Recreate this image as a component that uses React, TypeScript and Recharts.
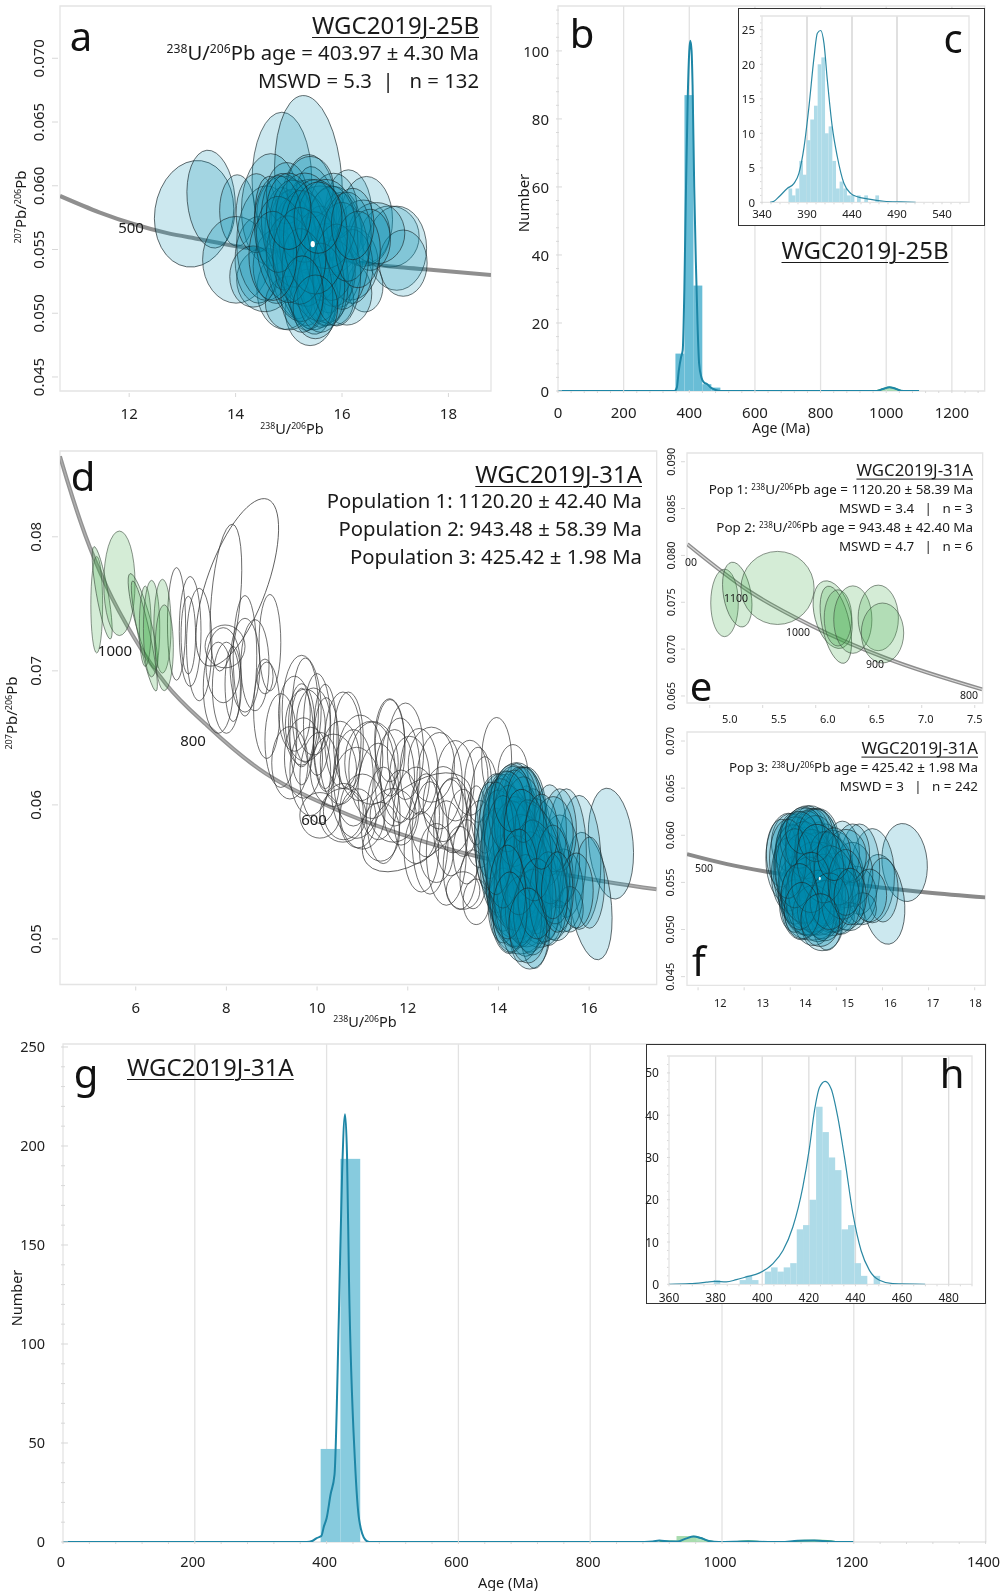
import React from "react";
import { ComposedChart, XAxis, YAxis, Line, Bar, Area, ReferenceArea, CartesianGrid } from "recharts";

type E = number[];

// ---- Ellipses: [x, y, rx, ry, tilt]
const ELLIPSES_A: E[] = [
[13.22,.0578,.74,.0042,8],[13.54,.05895,.45,.00385,-5],[14.03,.05806,.33,.0028],[14.01,.05419,.63,.0034],[14.87,.06047,.56,.0053],[15.37,.06034,.63,.00675,-4],[14.66,.05812,.55,.0044],[15.37,.05785,.53,.0046],[15.4,.05026,.47,.0028],[14.93,.05183,.53,.0031],[14.55,.05262,.53,.0025],[16.12,.05785,.44,.0034],[16.46,.05733,.49,.0034],[16.9,.05602,.55,.0024],[17.03,.0551,.56,.0033],[17.15,.05393,.45,.0026],[16.43,.0521,.34,.002],[16.09,.05157,.47,.0025],[15.4,.05157,.44,.0029,-10],
[14.43,.05419,.44,.0034],[14.58,.0555,.56,.0045],[14.9,.05785,.5,.0029],[15.02,.05471,.44,.0052,-8],[15.21,.05419,.44,.0055,-10],[15.46,.05471,.44,.0058,-10],[15.59,.05576,.47,.0058,-8],[15.4,.05681,.56,.0037],[15.08,.05733,.41,.0024],[15.59,.05759,.5,.0024],[15.84,.05654,.53,.0034],[15.96,.05497,.44,.0045],[16.15,.05393,.53,.0029],[15.71,.05314,.5,.0039],[15.21,.05288,.41,.0039,-10],[15.52,.05236,.38,.0035,-8],[14.77,.05367,.44,.0029],[16.4,.05628,.5,.0026],[16.65,.05628,.53,.0024],[15.84,.05105,.38,.002],[15.34,.05105,.31,.0024],[15.0,.05079,.44,.0021],[16.2,.05367,.38,.0029],[14.39,.05785,.38,.0031],[15.08,.05628,.35,.0029],[15.84,.05838,.44,.0026],[15.59,.05471,.38,.0037],[14.77,.05628,.38,.0045,-8],[16.53,.05576,.38,.0024],[14.96,.05942,.38,.0024],[15.4,.0599,.44,.0024],[14.33,.05288,.44,.0024],[15.84,.05314,.41,.0026],
[15.0,.0565,.5,.0045,-8],[15.2,.0555,.55,.005,-8],[15.4,.0545,.55,.0052,-10],[15.6,.0535,.5,.0045,-8],[15.8,.0555,.5,.0045],[16.0,.0545,.5,.0042],[15.3,.0575,.55,.0035],[15.7,.057,.55,.0035],[15.1,.0535,.5,.0042,-10],[15.35,.0525,.45,.0042,-10],[15.6,.052,.45,.0035],[15.9,.053,.45,.004],[14.9,.055,.5,.0042,-8],[14.8,.057,.45,.0038],[16.1,.056,.45,.0035],[16.3,.055,.42,.003],[15.5,.056,.6,.0045],[15.2,.0545,.5,.0038],[15.5,.0505,.42,.0025],[15.25,.0515,.4,.003],[14.7,.0545,.45,.0035],[16.2,.057,.4,.0028],[15.55,.0575,.45,.0028],[15.0,.058,.42,.003],
];
const CENTER_A: E[] = [[15.45,.05542,.04,.00024]];

const ELLIPSES_POP3: E[] = [
[16.48,.05711,.49,.00415,-5],[16.01,.0532,.46,.0048,-8],[15.78,.05571,.48,.005],[15.5,.0564,.44,.0048],[16.01,.0542,.33,.0034],[13.96,.05754,.49,.0048],[14.4,.05866,.66,.0045],[14.4,.0581,.44,.005],[14.18,.0581,.51,.0042],[14.54,.05866,.51,.0042],[14.69,.05025,.44,.0025],[14.8,.0511,.33,.0033],[14.47,.05137,.59,.0025],[14.25,.0525,.44,.0036],[14.32,.05361,.51,.0042],[14.62,.0525,.51,.0031],[14.91,.05305,.51,.0034],[15.21,.05305,.4,.0031],[15.43,.05361,.44,.0031],[14.76,.05641,.44,.0048],[14.32,.05585,.44,.005],[14.03,.05641,.4,.0048],[14.62,.05613,.37,.0053],[15.06,.05641,.51,.0042,-15],[15.35,.05585,.44,.0034],[14.47,.05669,.33,.0039],[14.4,.05389,.66,.0039],[14.91,.055,.59,.0031],[14.62,.05922,.44,.0036],[14.32,.05978,.44,.0031],[14.03,.05922,.44,.0031],[14.47,.06034,.37,.0025],[14.18,.06034,.4,.0022],[13.81,.0581,.33,.0036],[13.96,.05585,.37,.0039],[14.1,.05417,.37,.0036],[14.4,.05193,.48,.0025],[14.91,.05137,.48,.002],[14.69,.05697,.66,.0034,-20],[15.13,.0581,.37,.0034],[15.35,.0581,.37,.0031],[15.57,.05221,.3,.0017],[14.4,.05585,.3,.0025],[14.76,.05417,.37,.0036],[14.18,.05585,.51,.0053,-8],[14.54,.05361,.37,.0042],[14.1,.0525,.33,.0028],[15.28,.05137,.33,.0015],[15.72,.05361,.37,.0028],[15.21,.05782,.44,.0028],
[14.2,.0575,.5,.0045,-8],[14.4,.0565,.5,.005,-8],[14.6,.0555,.5,.0052,-10],[14.8,.0545,.5,.0048,-10],[14.3,.0555,.55,.0048],[14.5,.0545,.55,.0048],[14.7,.0535,.5,.0045],[14.35,.059,.45,.0036],[14.55,.0585,.45,.0036],[14.2,.0595,.42,.003],[14.4,.0535,.5,.0042],[14.6,.0525,.45,.0038],[14.5,.0515,.45,.0032],[14.75,.052,.42,.0032],[14.9,.0565,.45,.004,-15],[15.0,.055,.45,.004,-15],[15.1,.053,.42,.0035],[14.1,.0565,.42,.0042],[13.95,.0575,.4,.0042],[14.3,.0605,.4,.0025],[14.55,.06,.38,.0028],[14.65,.057,.5,.0042,-8],[14.45,.055,.42,.0032],[14.85,.053,.42,.003],[15.2,.055,.38,.0035],[14.2,.0535,.4,.0035],[14.25,.052,.38,.003],[14.65,.051,.42,.0028],[14.95,.058,.36,.0028],[15.3,.0535,.35,.003],
];
const CENTER_F: E[] = [[14.64,.05542,.022,.00018]];

const ELLIPSES_GREEN: E[] = [
[5.14,.07493,.13,.0036],[5.26,.07582,.13,.0035,-10],[5.64,.07653,.345,.0039],[6.16,.07368,.17,.0037,-15],[6.19,.0726,.13,.0042,-12],[6.21,.07333,.13,.003],[6.35,.07315,.18,.0036],[6.59,.07333,.19,.0035],[6.63,.07172,.2,.0032],
];

const ELLIPSES_OPEN: E[] = [
[8.24,.0766,.66,.0066,20],[7.99,.07546,.32,.0055,5],[6.9,.0735,.2,.0042],[7.2,.07294,.24,.0041],[7.4,.07196,.28,.0042],[7.16,.07266,.16,.0029],[7.97,.07182,.44,.0016],[7.93,.07042,.38,.0028],[7.82,.06874,.33,.0034],[8.0,.06874,.31,.0034],[8.15,.06902,.18,.0028],[8.41,.07112,.26,.0045],[8.41,.07042,.33,.0035],[8.63,.07042,.31,.0034],[8.96,.0721,.24,.0036],[8.85,.06958,.18,.0013],[8.89,.06706,.29,.0036],[9.66,.06706,.43,.0041],[9.66,.06594,.29,.0031],[9.74,.06706,.29,.0039],[9.74,.06594,.44,.0027],[9.66,.0651,.26,.0036],[9.92,.06622,.37,.0025],[10.18,.0651,.26,.0039],[10.69,.06482,.33,.0036],[10.51,.06314,.44,.0031],[10.36,.06258,.51,.0027],[9.4,.06314,.4,.0027],[11.21,.06258,.51,.0036],[10.8,.06202,.44,.0036],[10.58,.0595,.44,.0021],[11.61,.06426,.33,.0036],[11.83,.06258,.44,.0039],
[10.57,.06482,.4,.0036],[10.06,.06202,.44,.0034],[11.2,.06314,.59,.0031],[11.6,.06482,.33,.0031],[11.71,.06202,.44,.0036],[12.04,.06202,.44,.0031],[12.2,.0587,1.43,.0026,-40],[12.52,.063,.51,.0028],[13.37,.06202,.4,.0028],[13.96,.06342,.33,.0031],[14.32,.0623,.33,.0022],[12.49,.05754,.4,.0042],[12.85,.05641,.44,.0039],[13.15,.0553,.37,.0031],[13.44,.05445,.29,.0022],[12.19,.05922,.51,.0036],[11.68,.05922,.51,.002],[10.57,.05922,.51,.002],[10.06,.05922,.44,.0017],[12.41,.05922,.37,.0031],[12.78,.06006,.44,.0028],[13.22,.05866,.33,.0025],[13.59,.05782,.33,.0025],[13.0,.05922,.4,.0028],[13.51,.05277,.29,.0017],[13.22,.05361,.37,.0014],[13.51,.05922,.22,.0022],[12.63,.05641,.37,.0022],[10.87,.0609,.55,.0034],[11.46,.05922,.37,.0036],
[9.2,.0648,.35,.0035],[9.85,.0625,.45,.0033],[10.2,.0645,.28,.0035],[10.95,.0635,.5,.0032],[11.35,.061,.45,.0036],[11.0,.0595,.5,.0028],[11.4,.058,.42,.0022],[11.95,.064,.4,.0036],[12.25,.0625,.42,.0032],[12.7,.0618,.5,.0036],[13.05,.0618,.42,.003],[13.7,.06,.32,.0036],[13.3,.0565,.3,.0024],[12.95,.0583,.38,.0036],[12.3,.0565,.38,.003],[11.85,.0598,.4,.0028],[10.9,.059,.4,.0022],[9.5,.0668,.35,.0028],[10.0,.066,.3,.0038],[9.7,.0635,.42,.003],[13.75,.0565,.25,.0028],[13.55,.0615,.3,.0028],
];

// ---- Concordia curves
const CONCORDIA_A = [[10.7,.0592],[11.45,.0579],[12.08,.057],[12.7,.0563],[13.33,.0558],[13.96,.0553],[15.2,.0546],[16.46,.0539],[17.09,.0536],[17.72,.0534],[18.8,.053]];
const CONCORDIA_D = [[4.33,.086],[4.48,.0843],[4.89,.0801],[5.37,.0762],[5.96,.0725],[6.67,.069],[7.58,.0659],[8.71,.0627],[10.26,.0599],[12.41,.0572],[15.62,.0547],[17.49,.0537]];
const CONCORDIA_E = [[4.79,.0812],[5.37,.0762],[5.96,.0725],[6.67,.069],[7.57,.0657]];
const CONCORDIA_F = [[11.76,.058],[12.63,.05694],[13.5,.05613],[15.81,.05454],[16.97,.05394],[18.23,.05341]];

// ---- Histograms [age, count]
const HIST_B = [[371.5,11],[399,87],[426,31],[453.5,2],[481,1]];
const KDE_B = [[0,0],[355,0],[362,1],[368,6],[375,10],[380,12],[385,30],[390,60],[395,85],[400,100],[403,103],[407,100],[410,90],[415,60],[420,38],[425,20],[430,8],[437,4],[445,2.5],[455,2],[465,1],[480,.3],[495,0],[970,0],[990,.6],[1010,1.1],[1025,.8],[1045,.1],[1060,0],[1100,0]];
const GREEN_B = [[970,0],[990,.6],[1010,1.1],[1025,.8],[1045,.1]];

const HIST_C = [[371.5,2],[375.2,1],[379.3,2],[383.5,6],[387.6,4],[391.7,9],[395.7,12],[399.8,14],[403.9,20],[408,21],[412,10],[416.1,11],[420.2,6],[424.3,2],[428.3,3],[432.4,2],[436.5,1],[440.6,1],[447.6,1],[455.7,1],[468,1]];
const KDE_C = [[348.9,0],[353.3,.15],[358.9,.8],[368,2],[375.6,2.75],[381,4.2],[386.7,8],[392.2,13.9],[397.8,21],[401.5,24.5],[405.2,24.9],[408.9,23],[412.6,17.7],[418,11],[423.7,6.6],[431,2.75],[438.5,1.3],[446,.8],[457,.5],[475.6,.15],[494,.05],[510.7,0]];

const HIST_G = [[406,47],[436,193.5],[946,3]];
const BAR_COLORS_G = ["#87cbde", "#87cbde", "#a9dcae"];
const KDE_G = [[0,0],[370,0],[378,.5],[385,2],[392,3],[396,8],[400,12],[406,24],[412,34],[418.6,114],[423.5,186],[428,216],[431,195],[434,132],[443,41],[449.5,11],[459,1],[465,0],[870,0],[895,.3],[905,.7],[920,.2],[932,.2],[945,1.7],[957,2.8],[968,2],[980,.5],[995,0],[1040,.2],[1070,0],[1090,0],[1115,.6],[1140,.7],[1165,.2],[1175,0],[1200,0]];
const GREEN_G_1 = [[905,0],[915,.4],[932,.3],[945,1.7],[957,2.8],[968,2],[980,.5],[992,0]];
const GREEN_G_2 = [[1020,0],[1040,.5],[1060,0]];
const GREEN_G_3 = [[1105,0],[1125,.7],[1150,.7],[1175,0]];

const HIST_H = [[380.6,1],[391.7,1],[394.3,2],[397,1],[402.5,3],[405.2,4],[407.9,3],[410.6,4],[413.4,5],[416.2,13],[418.9,14],[421.7,20],[424.5,42],[427.2,36],[429.9,30],[432.6,27],[435.4,13],[438.2,14],[441,5],[443.7,2],[449.2,2]];
const KDE_H = [[360,0],[368.9,.15],[376,.5],[379.6,.7],[384.6,.55],[388.9,1.1],[393.1,1.75],[398.9,2.7],[404.6,4.9],[408.9,8],[413.1,13.5],[417.4,23],[420.3,32.4],[422.4,41],[424.6,46.6],[427,48],[429.6,46.2],[432.4,39.6],[435.3,30],[438.9,16.7],[442.4,8],[446,3.3],[450.3,.95],[456,.15],[469.9,0]];

const range = (a: number, b: number, s: number) => { const o: number[] = []; for (let v = a; v <= b + 1e-9; v += s) o.push(+v.toFixed(4)); return o; };
const rows = (t: number[][]) => t.map(([x, y]) => ({ x, y }));
const histRows = (h: number[][]) => h.map(([x, n]) => ({ x, n }));

const FONT = '"Noto Sans", sans-serif';
const TXT = "#222";

type Style = { fill: string; stroke: string; sw: number };
const TEAL: Style = { fill: "rgba(0,140,175,0.2)", stroke: "#1a282c", sw: 0.65 };
const GREEN: Style = { fill: "rgba(60,170,70,0.22)", stroke: "#3c4c3e", sw: 0.6 };
const OPEN: Style = { fill: "none", stroke: "#333", sw: 0.7 };
const WHITE: Style = { fill: "#fff", stroke: "none", sw: 0 };

function ellipses(list: E[], st: Style, prefix: string) {
  return list.map((e, i) => {
    const [x, y, rx, ry, tilt = 0] = e;
    return (
      <ReferenceArea key={prefix + i} x1={x - rx} x2={x + rx} y1={y - ry} y2={y + ry} isFront ifOverflow="visible"
        shape={(p: any) => {
          const cx = p.x + p.width / 2, cy = p.y + p.height / 2;
          return <ellipse cx={cx} cy={cy} rx={Math.abs(p.width) / 2} ry={Math.abs(p.height) / 2}
            transform={`rotate(${tilt} ${cx} ${cy})`} fill={st.fill} stroke={st.stroke} strokeWidth={st.sw} />;
        }} />
    );
  });
}

// Bars sit at the scale's x and height; only the drawn bin width is fixed.
const binBar = (w: number, color: (i: number) => string) => (p: any) => (
  <rect x={p.x + p.width / 2 - w / 2} y={p.y} width={w} height={Math.max(p.height, 0)} fill={color(p.index)} />
);

type TickOpt = { major: number[]; fmt?: (v: number) => string; off: number; size: number; len: number; minorLen?: number; dir?: number; rotate?: boolean; shift?: (v: number) => number; color?: string };

const isMajor = (o: TickOpt, v: number) => o.major.some((m) => Math.abs(m - v) < 1e-6);

const xTick = (o: TickOpt) => (p: any) => {
  const v = p.payload.value, maj = isMajor(o, v);
  const l = maj ? o.len : (o.minorLen ?? 0);
  return (
    <g>
      <line x1={p.x} x2={p.x} y1={p.y} y2={p.y + (o.dir ?? 1) * l} stroke={o.color ?? "#d8d8d8"} strokeWidth={1} />
      {maj && <text x={p.x + (o.shift ? o.shift(v) : 0)} y={p.y + o.off} textAnchor="middle" dominantBaseline="central" fontSize={o.size} fontFamily={FONT} fill={TXT}>{o.fmt ? o.fmt(v) : v}</text>}
    </g>
  );
};
const yTick = (o: TickOpt) => (p: any) => {
  const v = p.payload.value, maj = isMajor(o, v);
  const l = maj ? o.len : (o.minorLen ?? 0);
  const tx = p.x - o.off;
  return (
    <g>
      <line y1={p.y} y2={p.y} x1={p.x} x2={p.x - (o.dir ?? 1) * l} stroke={o.color ?? "#d8d8d8"} strokeWidth={1} />
      {maj && <text x={tx} y={p.y} textAnchor={o.rotate ? "middle" : "end"} dominantBaseline="central" transform={o.rotate ? `rotate(-90 ${tx} ${p.y})` : undefined} fontSize={o.size} fontFamily={FONT} fill={TXT}>{o.fmt ? o.fmt(v) : v}</text>}
    </g>
  );
};

const PAD = { top: 8, right: 24, bottom: 36, left: 44 };
const MARGIN = { top: PAD.top, right: PAD.right, bottom: PAD.bottom - 1, left: PAD.left - 1 };

function Plot(props: { l: number; t: number; r: number; b: number; xd: number[]; yd: number[]; xt: number[]; yt: number[]; xo: TickOpt; yo: TickOpt; grid?: number[]; gridColor?: string; data?: any[]; over?: any; children?: any }) {
  const { l, t, r, b, xd, yd, xt, yt, xo, yo, grid, gridColor, data = [], over, children } = props;
  const w = r - l + PAD.left + PAD.right, h = b - t + PAD.top + PAD.bottom;
  return (
    <div style={{ position: "absolute", left: l - PAD.left, top: t - PAD.top, width: w, height: h }}>
      <div style={{ position: "absolute", left: 0, top: 0 }}>
        <ComposedChart width={w} height={h} margin={MARGIN} data={data}>
          <XAxis type="number" dataKey="x" domain={xd} ticks={xt} interval={0} allowDataOverflow height={1} tickSize={0} tickLine={false} axisLine={false} tick={xTick(xo)} />
          <YAxis type="number" domain={yd} ticks={yt} interval={0} allowDataOverflow width={1} tickSize={0} tickLine={false} axisLine={false} tick={yTick(yo)} />
          {grid && <CartesianGrid horizontal={false} verticalValues={grid} stroke={gridColor ?? "#e2e2e2"} strokeWidth={1.3} />}
          <ReferenceArea x1={xd[0]} x2={xd[1]} y1={yd[0]} y2={yd[1]} fill="none" stroke="#e4e4e4" strokeWidth={1.3} ifOverflow="visible" />
          {children}
        </ComposedChart>
      </div>
      {over && (
        <div style={{ position: "absolute", left: 0, top: 0 }}>
          <ComposedChart width={w} height={h} margin={MARGIN} data={[]}>
            <XAxis type="number" dataKey="x" domain={xd} allowDataOverflow height={1} tickSize={0} tickLine={false} axisLine={false} tick={false} />
            <YAxis type="number" domain={yd} allowDataOverflow width={1} tickSize={0} tickLine={false} axisLine={false} tick={false} />
            {over}
          </ComposedChart>
        </div>
      )}
    </div>
  );
}

function concordia(curve: number[][], band: string, inner?: string) {
  const d = rows(curve);
  return [
    <Line key="c1" data={d} dataKey="y" type="monotone" dot={false} stroke={band} strokeWidth={4} isAnimationActive={false} />,
    inner ? <Line key="c2" data={d} dataKey="y" type="monotone" dot={false} stroke={inner} strokeWidth={1.2} isAnimationActive={false} /> : null,
  ];
}

function T(p: { x: number; y: number; a?: "l" | "c" | "r"; s: number; u?: boolean; rot?: boolean; c?: string; ls?: number; children: any }) {
  const tx = p.a === "r" ? "-100%" : p.a === "l" ? "0" : "-50%";
  return (
    <div style={{
      position: "absolute", left: p.x, top: p.y, whiteSpace: "pre", fontFamily: FONT, fontSize: p.s, lineHeight: 1, color: p.c ?? "#1a1a1a",
      letterSpacing: p.ls ?? 0, textDecoration: p.u ? "underline" : "none", textDecorationThickness: 1, textUnderlineOffset: 3,
      transform: `translate(${tx},-50%)${p.rot ? " rotate(-90deg)" : ""}`,
    }}>{p.children}</div>
  );
}
const Sup = ({ t }: { t: string }) => <span style={{ fontSize: "0.6em", verticalAlign: "0.55em", lineHeight: 0 }}>{t}</span>;
const UPb = () => <><Sup t="238" />U/<Sup t="206" />Pb</>;
const PbPb = () => <><Sup t="207" />Pb/<Sup t="206" />Pb</>;

const Letter = ({ x, y, t }: { x: number; y: number; t: string }) => <T x={x} y={y} s={40} c="#111">{t}</T>;

const Inset = ({ l, t, r, b }: { l: number; t: number; r: number; b: number }) => (
  <div style={{ position: "absolute", left: l, top: t, width: r - l, height: b - t, boxSizing: "border-box", border: "1.5px solid #333", background: "#fff" }} />
);

export default function App() {
  return (
    <div style={{ position: "absolute", left: 0, top: 0, width: 1003, height: 1591, background: "#fff", overflow: "hidden", filter: "blur(0.35px)" }}>
      {/* a */}
      <Plot l={60} t={6} r={491} b={391} xd={[10.7, 18.8]} yd={[0.0439, 0.0741]} xt={[12, 14, 16, 18]} yt={range(0.045, 0.07, 0.005)}
        xo={{ major: [12, 14, 16, 18], off: 20, size: 15, len: 4 }}
        yo={{ major: range(0.045, 0.07, 0.005), off: 20, size: 15, len: 6, rotate: true, fmt: (v) => v.toFixed(3) }}
        over={[...ellipses(ELLIPSES_A, TEAL, "a"), ...ellipses(CENTER_A, WHITE, "ac")]}>
        {concordia(CONCORDIA_A, "#8f8f8f")}
      </Plot>

      {/* b */}
      <Plot l={558.3} t={6} r={985} b={391} xd={[0, 1300]} yd={[0, 113.2]} data={histRows(HIST_B)}
        xt={range(0, 1280, 40)} yt={range(0, 112, 4)} grid={range(200, 1200, 200)}
        xo={{ major: range(0, 1200, 200), off: 19, size: 15, len: 3, minorLen: 2, dir: -1 }}
        yo={{ major: range(0, 100, 20), off: 7, size: 15, len: 6, minorLen: 3, dir: -1 }}>
        <Bar dataKey="n" shape={binBar(9, () => "#69bdd6")} isAnimationActive={false} />
        <Area data={rows(GREEN_B)} dataKey="y" type="monotone" stroke="#52b56a" strokeWidth={1.5} fill="#7fcf8f" isAnimationActive={false} />
        <Line data={rows(KDE_B)} dataKey="y" type="monotone" dot={false} stroke="#1d86a6" strokeWidth={2} isAnimationActive={false} />
      </Plot>

      {/* c */}
      <Inset l={738} t={8} r={984.5} b={225.5} />
      <Plot l={762} t={16} r={969} b={202.3} xd={[340, 570]} yd={[0, 27]} data={histRows(HIST_C)}
        xt={range(340, 560, 10)} yt={range(0, 27, 1)} grid={[390, 440, 490]} gridColor="#cfcfcf"
        xo={{ major: [340, 390, 440, 490, 540], off: 9, size: 11.5, len: 2, minorLen: 1.5, dir: -1 }}
        yo={{ major: range(0, 25, 5), off: 5, size: 11.5, len: 3, minorLen: 1.5, dir: -1 }}>
        <Bar dataKey="n" shape={binBar(3.7, () => "#aedbe8")} isAnimationActive={false} />
        <Line data={rows(KDE_C)} dataKey="y" type="monotone" dot={false} stroke="#2b88a3" strokeWidth={1.2} isAnimationActive={false} />
      </Plot>

      {/* d */}
      <Plot l={60} t={451.3} r={656.7} b={984.8} xd={[4.33, 17.49]} yd={[0.0466, 0.0864]} xt={[6, 8, 10, 12, 14, 16]} yt={[0.05, 0.06, 0.07, 0.08]}
        xo={{ major: [6, 8, 10, 12, 14, 16], off: 21, size: 15, len: 4 }}
        yo={{ major: [0.05, 0.06, 0.07, 0.08], off: 23, size: 15, len: 6, rotate: true, fmt: (v) => v.toFixed(2) }}
        over={[...ellipses(ELLIPSES_OPEN, OPEN, "do"), ...ellipses(ELLIPSES_POP3, TEAL, "d3"), ...ellipses(ELLIPSES_GREEN, GREEN, "dg")]}>
        {concordia(CONCORDIA_D, "#939393", "#b0b0b0")}
      </Plot>

      {/* e */}
      <Plot l={687.3} t={453} r={983} b={703} xd={[4.786, 7.575]} yd={[0.06425, 0.09093]} xt={range(5, 7.5, 0.5)} yt={range(0.065, 0.09, 0.005)}
        xo={{ major: range(5, 7.5, 0.5), off: 14, size: 11, len: 3, fmt: (v) => v.toFixed(1), shift: (v) => 20 - 8 * (v - 5) }}
        yo={{ major: range(0.065, 0.09, 0.005), off: 14, size: 11, len: 4, rotate: true, fmt: (v) => v.toFixed(3) }}
        over={ellipses(ELLIPSES_GREEN, GREEN, "eg")}>
        {concordia(CONCORDIA_E, "#8e8e8e", "#d8d8d8")}
      </Plot>

      {/* f */}
      <Plot l={686.7} t={731.7} r={985} b={985} xd={[11.76, 18.23]} yd={[0.04408, 0.07096]} xt={range(12, 18, 1)} yt={range(0.045, 0.07, 0.005)}
        xo={{ major: range(12, 18, 1), off: 15, size: 11, len: 3, shift: (v) => 22.3 - 3.6 * (v - 12) }}
        yo={{ major: range(0.045, 0.07, 0.005), off: 15, size: 11, len: 4, rotate: true, fmt: (v) => v.toFixed(3) }}
        over={[...ellipses(ELLIPSES_POP3, TEAL, "f3"), ...ellipses(CENTER_F, WHITE, "fc")]}>
        {concordia(CONCORDIA_F, "#8a8a8a")}
      </Plot>

      {/* g */}
      <Plot l={62.9} t={1043.6} r={985.5} b={1541.6} xd={[0, 1400]} yd={[0, 251.5]} data={histRows(HIST_G)}
        xt={range(0, 1400, 40)} yt={range(0, 250, 10)} grid={range(200, 1400, 200)}
        xo={{ major: range(0, 1400, 200), off: 18, size: 14.5, len: 3, minorLen: 2, dir: -1, shift: () => -2 }}
        yo={{ major: range(0, 250, 50), off: 16, size: 14.5, len: 7, minorLen: 4, dir: -1 }}>
        <Bar dataKey="n" shape={binBar(19.8, (i) => BAR_COLORS_G[i])} isAnimationActive={false} />
        <Area data={rows(GREEN_G_1)} dataKey="y" type="monotone" stroke="#4fb56a" strokeWidth={1.5} fill="#7fcf8f" isAnimationActive={false} />
        <Area data={rows(GREEN_G_2)} dataKey="y" type="monotone" stroke="#4fb56a" strokeWidth={1.5} fill="#7fcf8f" isAnimationActive={false} />
        <Area data={rows(GREEN_G_3)} dataKey="y" type="monotone" stroke="#4fb56a" strokeWidth={1.5} fill="#7fcf8f" isAnimationActive={false} />
        <Line data={rows(KDE_G)} dataKey="y" type="monotone" dot={false} stroke="#1d86a6" strokeWidth={2} isAnimationActive={false} />
      </Plot>

      {/* h */}
      <Inset l={646} t={1044} r={986} b={1304} />
      <Plot l={669.3} t={1055.7} r={972.3} b={1284} xd={[360, 490]} yd={[0, 54]} data={histRows(HIST_H)}
        xt={range(360, 490, 5)} yt={range(0, 54, 2)} grid={range(380, 480, 20)} gridColor="#dcdcdc"
        xo={{ major: range(360, 480, 20), off: 11, size: 12, len: 2, minorLen: 1.5, dir: -1 }}
        yo={{ major: range(0, 50, 10), off: 8, size: 12, len: 3, minorLen: 1.5, dir: -1 }}>
        <Bar dataKey="n" shape={binBar(6.5, () => "#aedbe8")} isAnimationActive={false} />
        <Line data={rows(KDE_H)} dataKey="y" type="monotone" dot={false} stroke="#2b88a3" strokeWidth={1.2} isAnimationActive={false} />
      </Plot>

      {/* letters */}
      <Letter x={81} y={36} t="a" /><Letter x={582} y={33} t="b" /><Letter x={953} y={38} t="c" />
      <Letter x={83} y={476} t="d" /><Letter x={701} y={686} t="e" /><Letter x={699} y={961} t="f" />
      <Letter x={86} y={1073} t="g" /><Letter x={952} y={1073} t="h" />

      {/* a text */}
      <T x={479} y={25} a="r" s={24} u>WGC2019J-25B</T>
      <T x={479} y={52} a="r" s={20.3}><UPb /> age = 403.97 ± 4.30 Ma</T>
      <T x={479} y={80} a="r" s={20.3}>{"MSWD = 5.3  |   n = 132"}</T>
      <T x={131} y={227} s={15}>500</T>
      <T x={292} y={428} s={14.5}><UPb /></T>
      <T x={20} y={207} s={15} rot><PbPb /></T>

      {/* b text */}
      <T x={865} y={250} s={24} u>WGC2019J-25B</T>
      <T x={781} y={428} s={14}>Age (Ma)</T>
      <T x={523} y={203} s={15} rot>Number</T>

      {/* d text */}
      <T x={642} y={474} a="r" s={24} u>WGC2019J-31A</T>
      <T x={642} y={500} a="r" s={20.3}>Population 1: 1120.20 ± 42.40 Ma</T>
      <T x={642} y={528} a="r" s={20.3}>Population 2: 943.48 ± 58.39 Ma</T>
      <T x={642} y={556} a="r" s={20.3}>Population 3: 425.42 ± 1.98 Ma</T>
      <T x={115} y={650} s={15}>1000</T>
      <T x={193} y={740} s={15}>800</T>
      <T x={314} y={819} s={15}>600</T>
      <T x={365} y={1021} s={14.5}><UPb /></T>
      <T x={11} y={713} s={15} rot><PbPb /></T>

      {/* e text */}
      <T x={973} y={470} a="r" s={16.8} u>WGC2019J-31A</T>
      <T x={973} y={490} a="r" s={13.4}>Pop 1: <UPb /> age = 1120.20 ± 58.39 Ma</T>
      <T x={973} y={509} a="r" s={13.4}>{"MSWD = 3.4   |   n = 3"}</T>
      <T x={973} y={528} a="r" s={13.4}>Pop 2: <UPb /> age = 943.48 ± 42.40 Ma</T>
      <T x={973} y={547} a="r" s={13.4}>{"MSWD = 4.7   |   n = 6"}</T>
      <T x={736} y={598} s={10.5}>1100</T>
      <T x={798} y={632} s={10.5}>1000</T>
      <T x={875} y={664} s={10.5}>900</T>
      <T x={969} y={695} s={10.5}>800</T>
      <T x={691} y={562} s={10.5}>00</T>

      {/* f text */}
      <T x={978} y={748} a="r" s={16.8} u>WGC2019J-31A</T>
      <T x={978} y={768} a="r" s={13.4}>Pop 3: <UPb /> age = 425.42 ± 1.98 Ma</T>
      <T x={978} y={787} a="r" s={13.4}>{"MSWD = 3   |   n = 242"}</T>
      <T x={704} y={868} s={10.5}>500</T>

      {/* g text */}
      <T x={127} y={1067} a="l" s={24} u>WGC2019J-31A</T>
      <T x={508} y={1582} s={14.5}>Age (Ma)</T>
      <T x={16} y={1298} s={14.5} rot>Number</T>
    </div>
  );
}
